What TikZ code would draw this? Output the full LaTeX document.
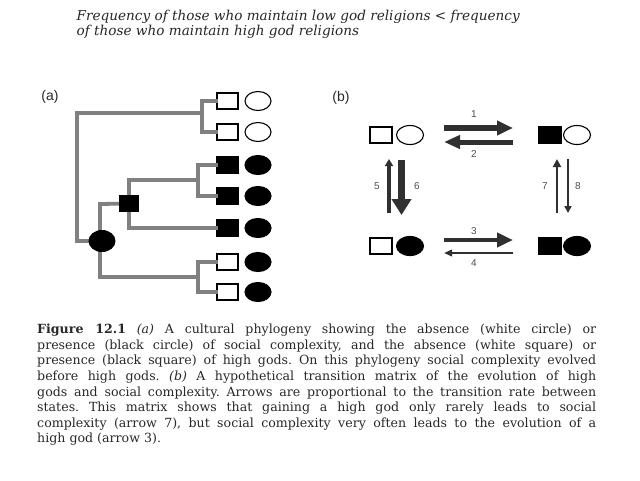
\documentclass[tikz,border=0pt]{standalone}
\usepackage{fontspec}
\setmainfont{DejaVu Serif}
\newfontfamily\labfont{Liberation Sans}
\usetikzlibrary{shapes.geometric,arrows.meta}
\definecolor{treegray}{RGB}{128,128,128}
\definecolor{arrgray}{RGB}{48,48,48}
\definecolor{labgray}{RGB}{80,80,80}
\definecolor{txtgray}{RGB}{40,40,40}
\frenchspacing
\begin{document}
\begin{tikzpicture}[x=1pt,y=-1pt,
  branch/.style={draw=treegray, line width=3.8pt, line cap=rect},
  sqw/.style={rectangle, draw=black, fill=white, line width=1.1pt, minimum width=21pt, minimum height=16pt, inner sep=0pt},
  sqb/.style={sqw, fill=black},
  cw/.style={ellipse, draw=black, fill=white, line width=1.1pt, minimum width=26pt, minimum height=19pt, inner sep=0pt},
  cb/.style={cw, fill=black},
  inner/.style={fill=black, inner sep=0pt},
  lab/.style={font=\labfont\fontsize{10}{12}\selectfont, text=labgray, inner sep=0pt},
  panel/.style={font=\labfont\fontsize{14}{16}\selectfont, text=txtgray, inner sep=0pt},
  arr/.style={draw=arrgray, line cap=butt}]
\fill[white] (0,0) rectangle (640,480);
\useasboundingbox (0,0) rectangle (640,480);

% ---- top text
\node[anchor=north west, inner sep=0pt, align=left, text=txtgray,
      font=\itshape\fontsize{13.6}{15.5}\selectfont] (head) at (76.5,9.5)
  {Frequency of those who maintain low god religions < frequency\\
   of those who maintain high god religions};

% ---- panel labels
\node[panel] (pa) at (50,97) {(a)};
\node[panel] (pb) at (341,98) {(b)};

% ---- tree coordinates
\coordinate (r0) at (77,241);
\coordinate (c1) at (202,113);
\coordinate (r1) at (100,204);
\coordinate (c2) at (198,180);
\coordinate (c3) at (198,277);

% tip squares
\node[sqw] (t1) at (227.5,101) {};
\node[sqw] (t2) at (227.5,132) {};
\node[sqb] (t3) at (227.5,165) {};
\node[sqb] (t4) at (227.5,196) {};
\node[sqb] (t5) at (227.5,228) {};
\node[sqw] (t6) at (227.5,262) {};
\node[sqw] (t7) at (227.5,292) {};
% internal node positions
\coordinate (root) at (102,241);
\coordinate (n1) at (129,203.5);

% branches
\draw[branch] (root) -- (r0) |- (c1);
\draw[branch] (t1.west) -| (c1);
\draw[branch] (t2.west) -| (c1);
\draw[branch] (r1 |- root) -- (r1) -- (n1);
\draw[branch] (r1 |- root) |- (c3);
\draw[branch] (t6.west) -| (c3);
\draw[branch] (t7.west) -| (c3);
\draw[branch] (c2) -| (n1);
\draw[branch] (t5.west) -| (n1);
\draw[branch] (t3.west) -| (c2);
\draw[branch] (t4.west) -| (c2);
% internal nodes on top
\node[inner, ellipse, minimum width=27pt, minimum height=22pt] (rootn) at (root) {};
\node[inner, rectangle, minimum width=20pt, minimum height=17pt] (n1n) at (n1) {};

% tip circles
\node[cw] (e1) at (258,101) {};
\node[cw] (e2) at (258,132) {};
\node[cb] (e3) at (258,165) {};
\node[cb] (e4) at (258,196) {};
\node[cb] (e5) at (258,228) {};
\node[cb] (e6) at (258,262) {};
\node[cb] (e7) at (258,292) {};

% ---- panel (b) states
\node[sqw, minimum width=22pt, minimum height=16pt] (s00q) at (381,135) {};
\node[cw, minimum width=27pt, minimum height=19pt] (s00c) at (410,135) {};
\node[sqb, minimum width=22pt, minimum height=16pt] (s10q) at (550,135) {};
\node[cw, minimum width=27pt, minimum height=19pt] (s10c) at (577,135) {};
\node[sqw, minimum width=22pt, minimum height=16pt] (s01q) at (381,246) {};
\node[cb, minimum width=27pt, minimum height=19pt] (s01c) at (410,246) {};
\node[sqb, minimum width=22pt, minimum height=16pt] (s11q) at (550,246) {};
\node[cb, minimum width=27pt, minimum height=19pt] (s11c) at (577,246) {};

% arrow coordinates
\coordinate (a1s) at (444,128); \coordinate (a1e) at (513,128);
\coordinate (a2s) at (513,142); \coordinate (a2e) at (444,142);
\coordinate (a3s) at (444,240); \coordinate (a3e) at (513,240);
\coordinate (a4s) at (513,253); \coordinate (a4e) at (444,253);
\coordinate (a5s) at (389,213); \coordinate (a5e) at (389,159);
\coordinate (a6s) at (401.5,160); \coordinate (a6e) at (401.5,215);
\coordinate (a7s) at (557,213); \coordinate (a7e) at (557,159);
\coordinate (a8s) at (568,159); \coordinate (a8e) at (568,213);

\draw[arr, line width=5.7pt, -{Triangle[width=14pt,length=16pt]}] (a1s) -- (a1e);
\draw[arr, line width=5pt, -{Triangle[width=13pt,length=16pt]}] (a2s) -- (a2e);
\draw[arr, line width=4.5pt, -{Triangle[width=14pt,length=16pt]}] (a3s) -- (a3e);
\draw[arr, line width=2.3pt, -{Triangle[width=6.5pt,length=8pt]}] (a4s) -- (a4e);
\draw[arr, line width=3.3pt, -{Triangle[width=8pt,length=7pt]}] (a5s) -- (a5e);
\draw[arr, line width=7pt, -{Triangle[width=19pt,length=16pt]}] (a6s) -- (a6e);
\draw[arr, line width=2.7pt, -{Triangle[width=8pt,length=8pt]}] (a7s) -- (a7e);
\draw[arr, line width=2pt, -{Triangle[width=7pt,length=7pt]}] (a8s) -- (a8e);

\node[lab] (l1) at (474,114) {1};
\node[lab] (l2) at (474,154) {2};
\node[lab] (l3) at (474,231) {3};
\node[lab] (l4) at (474,263) {4};
\node[lab] (l5) at (377,186) {5};
\node[lab] (l6) at (417,186) {6};
\node[lab] (l7) at (545,186) {7};
\node[lab] (l8) at (578,186) {8};

% ---- caption
\node[anchor=north west, inner sep=0pt, align=left, text=txtgray,
      font=\fontsize{12.6}{15.6}\selectfont] (cap) at (37,324)
 {\makebox[559pt][s]{\textbf{Figure 12.1} \textit{(a)} A cultural phylogeny showing the absence (white circle) or}\\
  \makebox[559pt][s]{presence (black circle) of social complexity, and the absence (white square) or}\\
  \makebox[559pt][s]{presence (black square) of high gods. On this phylogeny social complexity evolved}\\
  \makebox[559pt][s]{before high gods. \textit{(b)} A hypothetical transition matrix of the evolution of high}\\
  \makebox[559pt][s]{gods and social complexity. Arrows are proportional to the transition rate between}\\
  \makebox[559pt][s]{states. This matrix shows that gaining a high god only rarely leads to social}\\
  \makebox[559pt][s]{complexity (arrow 7), but social complexity very often leads to the evolution of a}\\
  high god (arrow 3).};
\end{tikzpicture}
\end{document}
